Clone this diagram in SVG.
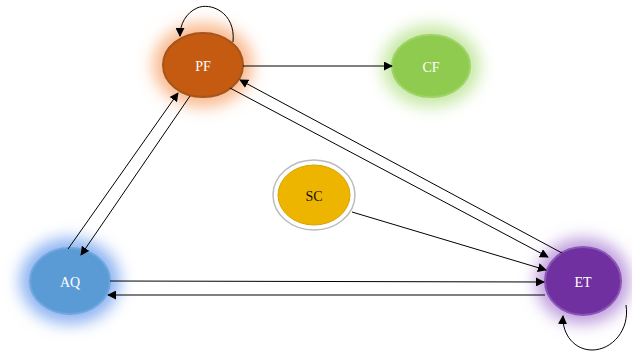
<svg xmlns="http://www.w3.org/2000/svg" width="632" height="352" viewBox="0 0 632 352">
<defs>
<style>
.lbl{font-family:"Liberation Serif","Times New Roman",serif;font-size:14px;text-anchor:middle;dominant-baseline:central}
.w{fill:#ffffff}
.e{stroke:#000;stroke-width:1;fill:none;marker-end:url(#ah)}
</style>
<marker id="ah" viewBox="0 0 10 10" refX="9" refY="5" markerWidth="9" markerHeight="9" markerUnits="userSpaceOnUse" orient="auto">
<path d="M0,0 L10,5 L0,10 Z" fill="#000"/>
</marker>
<filter id="glow" x="-60%" y="-60%" width="220%" height="220%">
<feGaussianBlur stdDeviation="8"/>
</filter>
</defs>
<rect width="632" height="352" fill="#fff"/>
<g id="PF">
<ellipse cx="203" cy="65" rx="50" ry="42" fill="#F9B88C" filter="url(#glow)"/>
<ellipse cx="203" cy="65" rx="40" ry="32" fill="#C55A11" stroke="#A4561E" stroke-width="2"/>
<text class="lbl w" x="203" y="66">PF</text>
</g>
<g id="CF">
<ellipse cx="431" cy="66" rx="49" ry="41" fill="#C6E8A4" filter="url(#glow)"/>
<ellipse cx="431" cy="66" rx="39" ry="31" fill="#8FCB4F" stroke="#9ED466" stroke-width="2"/>
<text class="lbl w" x="431" y="67">CF</text>
</g>
<g id="SC">
<ellipse cx="314" cy="195" rx="41" ry="35" fill="#fff" stroke="#bbb" stroke-width="1.5"/>
<ellipse cx="314" cy="195" rx="36" ry="30" fill="#EDB500" stroke="#D9A400" stroke-width="1"/>
<text class="lbl" x="314" y="196" fill="#111">SC</text>
</g>
<g id="AQ">
<ellipse cx="70" cy="281" rx="50" ry="43" fill="#8CB2F2" filter="url(#glow)"/>
<ellipse cx="70" cy="281" rx="40" ry="33" fill="#5B9BD5" stroke="#6FA6DB" stroke-width="2"/>
<text class="lbl w" x="70" y="282">AQ</text>
</g>
<g id="ET">
<ellipse cx="583" cy="281" rx="47" ry="43" fill="#BE9CDD" filter="url(#glow)"/>
<ellipse cx="583" cy="281" rx="38" ry="34" fill="#7030A0" stroke="#8A55B5" stroke-width="2"/>
<text class="lbl w" x="583" y="282">ET</text>
</g>
<g id="connectors">
<path class="e" d="M233,42 C236,12 210,2 197,8 C186,13 180,24 180,36"/>
<path class="e" d="M243,66 L392,66"/>
<path class="e" d="M68,249 L178,93"/>
<path class="e" d="M190,96 L81,255"/>
<path class="e" d="M562,253 L240,80"/>
<path class="e" d="M230,88 L548,257"/>
<path class="e" d="M352,212 L546,270"/>
<path class="e" d="M110,281 L544,282"/>
<path class="e" d="M545,295 L108,295"/>
<path class="e" d="M626,305 C630,330 612,350 592,350 C575,350 562,335 563,316"/>
</g>
</svg>
